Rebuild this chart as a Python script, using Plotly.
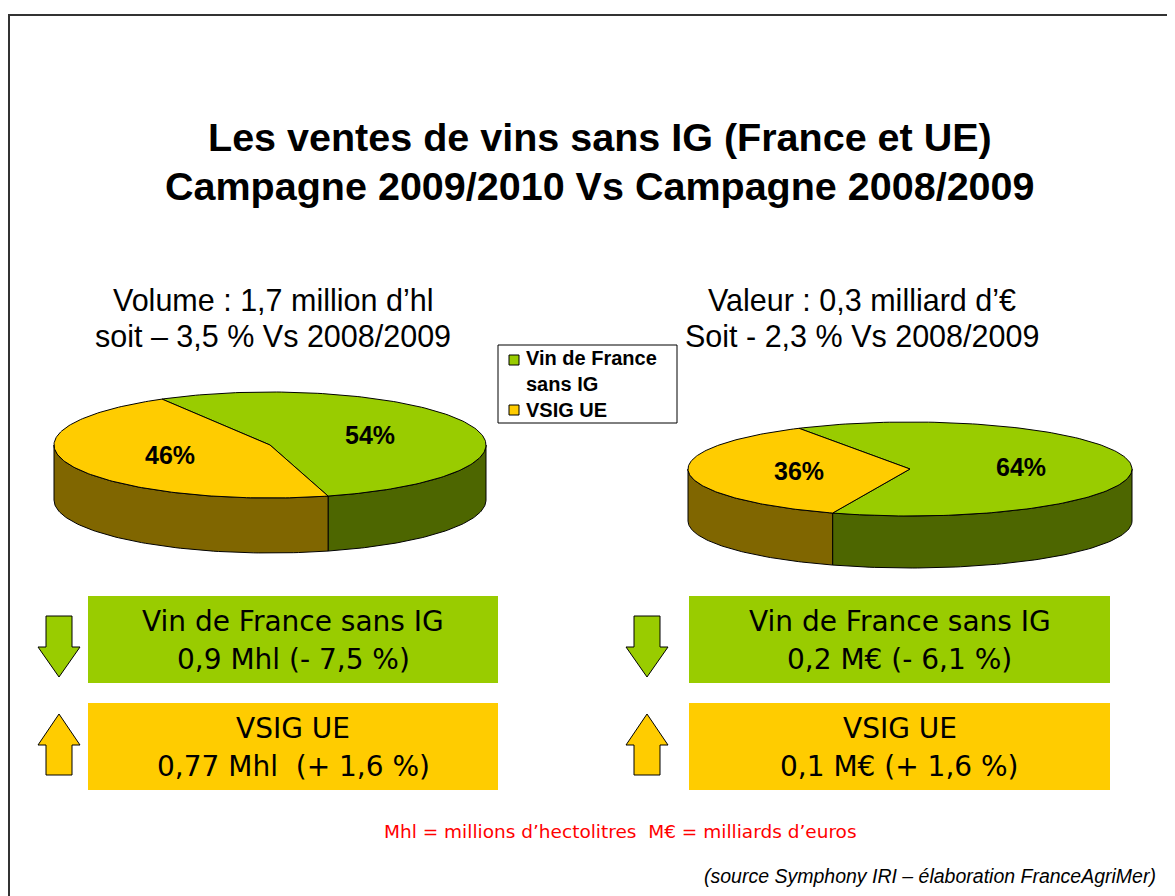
import numpy as np
import plotly.graph_objects as go

# ---------------- data ----------------
categories = ["Vin de France sans IG", "VSIG UE"]
volume_share = [54, 46]      # % of volume
value_share = [64, 36]       # % of value

title_lines = ["Les ventes de vins sans IG (France et UE)",
               "Campagne 2009/2010 Vs Campagne 2008/2009"]
volume_caption = ["Volume : 1,7 million d’hl", "soit – 3,5 % Vs 2008/2009"]
value_caption = ["Valeur : 0,3 milliard d’€", "Soit - 2,3 % Vs 2008/2009"]
volume_boxes = [["Vin de France sans IG", "0,9 Mhl (- 7,5 %)"],
                ["VSIG UE", "0,77 Mhl \u00a0(+ 1,6 %)"]]
value_boxes = [["Vin de France sans IG", "0,2 M€ (- 6,1 %)"],
               ["VSIG UE", "0,1 M€ (+ 1,6 %)"]]
trend = ["down", "up"]
units_note = "Mhl = millions d’hectolitres \u00a0M€ = milliards d’euros"
source_note = "(source Symphony IRI – élaboration FranceAgriMer)"
legend_labels = ["Vin de France<br>sans IG", "VSIG UE"]

# ---------------- styles ----------------
OFF = 8                      # page offset of the plot div
W, H = 1175 - OFF, 896 - OFF
TOP_COL = ["#99CC00", "#FFCC00"]
SIDE_COL = ["#4D6600", "#806600"]
ARIAL = "Liberation Sans, Arial, sans-serif"
TAHOMA = "DejaVu Sans, Verdana, sans-serif"

fig = go.Figure()


def pie3d(values, cx, cy, rx, ry, depth, start=240.0):
    total = float(sum(values))
    spans = []
    t = start
    for v in values:
        spans.append((t, t + 360.0 * v / total))
        t += 360.0 * v / total
    # sides (front half only: screen angles 0..180 and 360..540)
    for i, (a, b) in enumerate(spans):
        for lo, hi in [(0, 180), (360, 540)]:
            s, e = max(a, lo), min(b, hi)
            if e > s:
                ang = np.radians(np.linspace(s, e, 80))
                xs = cx + rx * np.cos(ang)
                ys = cy + ry * np.sin(ang)
                fig.add_trace(go.Scatter(
                    x=np.concatenate([xs, xs[::-1], xs[:1]]),
                    y=np.concatenate([ys, ys[::-1] + depth, ys[:1]]),
                    mode="lines", fill="toself", fillcolor=SIDE_COL[i],
                    line=dict(color="black", width=1), hoverinfo="skip",
                    showlegend=False))
    # tops
    for i, (a, b) in enumerate(spans):
        ang = np.radians(np.linspace(a, b, 160))
        xs = np.concatenate([[cx], cx + rx * np.cos(ang), [cx]])
        ys = np.concatenate([[cy], cy + ry * np.sin(ang), [cy]])
        fig.add_trace(go.Scatter(
            x=xs, y=ys, mode="lines", fill="toself", fillcolor=TOP_COL[i],
            line=dict(color="black", width=1), hoverinfo="skip",
            name=categories[i], showlegend=False))
    # percentage labels
    for i, (a, b) in enumerate(spans):
        m = np.radians((a + b) / 2)
        fig.add_annotation(x=cx + 0.5 * rx * np.cos(m), y=cy + 0.5 * ry * np.sin(m),
                           text=f"{values[i]}%", showarrow=False,
                           font=dict(family=ARIAL, size=25, color="black", weight="bold"))


pie3d(volume_share, 270, 445, 216, 53, 55)
pie3d(value_share, 910, 469, 222, 47, 52)

# titles
for line, y in zip(title_lines, [137, 186]):
    fig.add_annotation(x=600, y=y, text=line, showarrow=False,
                       font=dict(family=ARIAL, size=39.5, color="black", weight="bold"))
for cap, cx in [(volume_caption, 273), (value_caption, 862)]:
    for line, y in zip(cap, [300, 336]):
        fig.add_annotation(x=cx, y=y, text=line, showarrow=False,
                           font=dict(family=ARIAL, size=30.5, color="black"))

# legend box
fig.add_shape(type="rect", x0=498, x1=677, y0=345, y1=423, xref="x", yref="y",
              line=dict(color="black", width=1), fillcolor="white")
for i, (label, ysq, ytx) in enumerate(zip(legend_labels, [360, 410], [371, 410])):
    fig.add_shape(type="rect", x0=509, x1=519, y0=ysq - 5, y1=ysq + 5, xref="x", yref="y",
                  line=dict(color="black", width=1), fillcolor=TOP_COL[i])
    fig.add_annotation(x=524, y=ytx, text=label, showarrow=False, xanchor="left",
                       align="left", yanchor="middle",
                       font=dict(family=ARIAL, size=20, color="black", weight="bold"))

# boxes + arrows
box_rows = [(596, 683), (703, 790)]
for boxes, (x0, x1), ax in [(volume_boxes, (88, 498), 59), (value_boxes, (689, 1110), 647)]:
    for i, (lines, (y0, y1)) in enumerate(zip(boxes, box_rows)):
        fig.add_shape(type="rect", x0=x0, x1=x1, y0=y0, y1=y1, xref="x", yref="y",
                      fillcolor=TOP_COL[i], line=dict(width=0), layer="below")
        yc = (y0 + y1) / 2
        for line, dy in zip(lines, [-18, 20]):
            fig.add_annotation(x=(x0 + x1) / 2, y=yc + dy, text=line, showarrow=False,
                               font=dict(family=TAHOMA, size=28, color="black"))
        # arrow
        sw, hw = 13, 21
        if trend[i] == "down":
            top, neck, tip = 616, 647, 677
            path = (f"M{ax-sw},{top} L{ax+sw},{top} L{ax+sw},{neck} L{ax+hw},{neck} "
                    f"L{ax},{tip} L{ax-hw},{neck} L{ax-sw},{neck} Z")
        else:
            tip, neck, bot = 714, 745, 775
            path = (f"M{ax-sw},{bot} L{ax+sw},{bot} L{ax+sw},{neck} L{ax+hw},{neck} "
                    f"L{ax},{tip} L{ax-hw},{neck} L{ax-sw},{neck} Z")
        fig.add_shape(type="path", path=path, xref="x", yref="y",
                      fillcolor=TOP_COL[i], line=dict(color="black", width=1))

fig.add_annotation(x=620, y=831, text=units_note, showarrow=False,
                   font=dict(family=TAHOMA, size=18.5, color="#FF0000"))
fig.add_annotation(x=1158, y=876, text=f"<i>{source_note}</i>", showarrow=False, xanchor="right",
                   font=dict(family=ARIAL, size=19.5, color="black"))

# slide frame
fig.add_shape(type="rect", x0=9, y0=15, x1=1200, y1=920, xref="x", yref="y",
              line=dict(color="#333333", width=2), fillcolor="rgba(0,0,0,0)")

fig.update_layout(
    width=W, height=H, autosize=False,
    margin=dict(l=0, r=0, t=0, b=0),
    paper_bgcolor="white", plot_bgcolor="white",
    xaxis=dict(range=[OFF, OFF + W], visible=False, fixedrange=True),
    yaxis=dict(range=[OFF + H, OFF], visible=False, fixedrange=True),
    showlegend=False,
)

fig.write_html("out.html")
